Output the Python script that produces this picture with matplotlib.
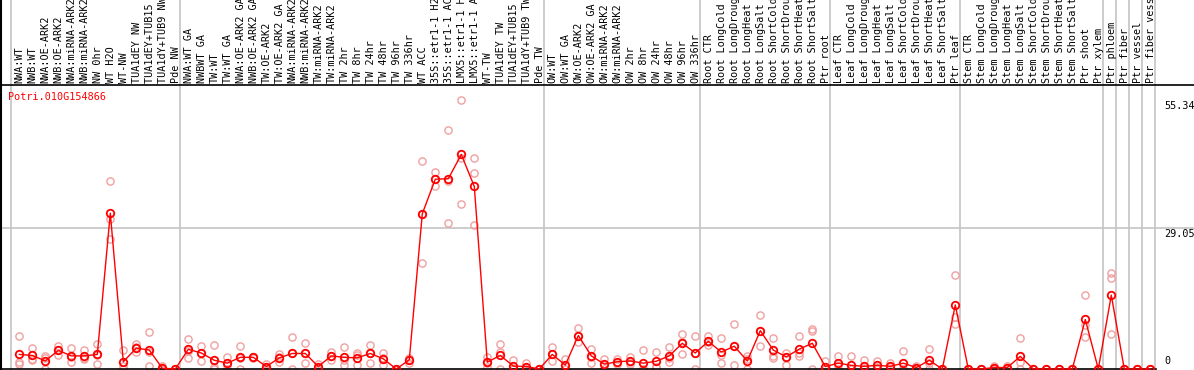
import matplotlib
matplotlib.use("Agg")
import matplotlib.pyplot as plt
from matplotlib.lines import Line2D
import numpy as np

gene = "Potri.010G154866"

samples = [
    "NWA:WT", "NWB:WT", "NWA:OE-ARK2", "NWB:OE-ARK2", "NWA:miRNA-ARK2",
    "NWB:miRNA-ARK2", "NW 0hr", "WT H2O", "WT-NW", "TUA1dEY NW",
    "TUA1dEY+TUB15 NW", "TUA1dY+TUB9 NW", "Pde NW",
    "NWA:WT GA", "NWBWT GA", "TW:WT", "TW:WT GA", "NWA:OE-ARK2 GA",
    "NWB:OE-ARK2 GA", "TW:OE-ARK2", "TW:OE-ARK2 GA", "NWA:miRNA-ARK2",
    "NWB:miRNA-ARK2", "TW:miRNA-ARK2", "TW:miRNA-ARK2", "TW 2hr", "TW 8hr",
    "TW 24hr", "TW 48hr", "TW 96hr", "TW 336hr", "WT ACC",
    "35S::etr1-1 H2O", "35S::etr1-1 ACC", "LMX5::etr1-1 H2O",
    "LMX5::etr1-1 ACC", "WT-TW", "TUA1dEY TW", "TUA1dEY+TUB15 TW",
    "TUA1dY+TUB9 TW", "Pde TW",
    "OW:WT", "OW:WT GA", "OW:OE-ARK2", "OW:OE-ARK2 GA", "OW:miRNA-ARK2",
    "OW:miRNA-ARK2", "OW 2hr", "OW 8hr", "OW 24hr", "OW 48hr", "OW 96hr",
    "OW 336hr",
    "Root CTR", "Root LongCold", "Root LongDrought", "Root LongHeat",
    "Root LongSalt", "Root ShortCold", "Root ShortDrought", "Root ShortHeat",
    "Root ShortSalt", "Ptr root",
    "Leaf CTR", "Leaf LongCold", "Leaf LongDrought", "Leaf LongHeat",
    "Leaf LongSalt", "Leaf ShortCold", "Leaf ShortDrought", "Leaf ShortHeat",
    "Leaf ShortSalt", "Ptr leaf",
    "Stem CTR", "Stem LongCold", "Stem LongDrought", "Stem LongHeat",
    "Stem LongSalt", "Stem ShortCold", "Stem ShortDrought", "Stem ShortHeat",
    "Stem ShortSalt", "Ptr shoot", "Ptr xylem",
    "Ptr phloem", "Ptr fiber", "Ptr vessel", "Ptr fiber vessel",
]

# index of the last sample in each group (0-based), -1 = left edge
group_ends = [-1, 12, 40, 52, 62, 72, 83, 84, 85, 86, 87]

mean_expr = [
    3.0, 2.8, 1.65, 3.85, 2.7, 2.7, 3.0, 32.1, 1.5, 4.3, 3.9, 0.15, 0.0,
    4.05, 3.3, 1.8, 1.2, 2.4, 2.4, 0.5, 2.3, 3.2, 3.2, 0.5, 2.7, 2.4, 2.3,
    3.2, 2.1, 0.0, 1.9, 32.0, 39.1, 39.2, 44.2, 37.6, 1.4, 2.8, 0.6, 0.5, 0.0,
    3.0, 0.8, 6.9, 2.7, 1.0, 1.5, 1.65, 1.2, 1.6, 2.7, 5.3, 3.3,
    5.7, 3.5, 4.7, 1.65, 7.9, 3.9, 2.5, 4.1, 5.3, 0.5,
    1.2, 0.75, 0.55, 0.75, 0.55, 1.2, 0.3, 1.8, 0.0, 13.2,
    0.0, 0.0, 0.3, 0.3, 2.6, 0.0, 0.0, 0.0, 0.0, 10.2, 0.0,
    15.2, 0.0, 0.0, 0.0,
]

rep1 = [
    6.7, 4.3, 2.7, 4.8, 4.3, 3.9, 5.1, 38.7, 3.85, 5.1, 7.6, 0.6, 0.0,
    6.2, 4.7, 4.9, 2.5, 4.8, 2.5, 1.0, 3.1, 6.6, 5.4, 1.0, 3.4, 4.5, 3.2,
    4.9, 3.2, 0.0, 2.3, 42.8, 40.6, 49.2, 55.34, 43.4, 2.5, 5.2, 1.9, 1.3, 0.0,
    4.5, 2.0, 8.4, 4.05, 2.1, 2.1, 2.5, 3.9, 3.5, 4.5, 7.3, 6.7,
    6.7, 6.3, 9.2, 2.7, 11.1, 6.3, 3.2, 6.7, 8.2, 1.7,
    2.7, 2.7, 1.9, 1.7, 1.3, 3.7, 0.6, 4.1, 0.0, 19.3,
    0.0, 0.0, 0.6, 0.6, 6.3, 0.0, 0.0, 0.0, 0.0, 15.2, 0.0,
    19.7, 0.0, 0.0, 0.0,
]

rep2 = [
    1.5, 2.1, 2.3, 3.9, 2.5, 2.2, 2.9, 30.8, 0.7, 4.5, 3.5, 0.0, 0.0,
    3.7, 3.3, 0.5, 0.8, 2.2, 2.4, 0.5, 2.4, 3.3, 3.2, 0.5, 2.7, 1.9, 2.9,
    3.2, 2.2, 0.0, 1.9, 32.0, 39.1, 38.8, 43.4, 40.3, 1.2, 3.6, 0.0, 0.2, 0.0,
    3.0, 0.6, 6.9, 2.5, 0.8, 1.5, 1.5, 0.0, 0.5, 2.2, 5.6, 3.3,
    5.6, 2.8, 4.7, 2.0, 7.9, 2.7, 2.5, 3.2, 7.9, 0.0,
    0.8, 0.0, 0.0, 0.5, 0.5, 0.0, 0.2, 1.3, 0.0, 10.8,
    0.0, 0.0, 0.2, 0.2, 1.5, 0.0, 0.0, 0.0, 0.0, 9.1, 0.0,
    18.7, 0.0, 0.0, 0.0,
]

rep3 = [
    1.0, 1.9, 0.0, 2.9, 1.4, 2.0, 1.0, 26.7, 0.0, 3.4, 0.6, 0.0, 0.0,
    2.3, 1.6, 0.0, 0.0, 0.0, 2.2, 0.0, 1.5, 0.0, 1.2, 0.0, 1.9, 0.8, 0.8,
    1.2, 0.8, 0.0, 1.2, 21.8, 37.7, 30.0, 33.9, 29.6, 0.5, 0.0, 0.0, 0.0, 0.0,
    1.6, 0.0, 5.6, 1.2, 0.0, 1.0, 1.0, 0.0, 0.35, 1.5, 3.0, 0.0,
    5.0, 1.2, 0.8, 0.0, 4.7, 2.3, 0.8, 2.7, 0.0, 0.0,
    0.0, 0.0, 0.0, 0.0, 0.0, 0.0, 0.0, 0.0, 0.0, 9.2,
    0.0, 0.0, 0.0, 0.0, 0.0, 0.0, 0.0, 0.0, 0.0, 6.6, 0.0,
    7.3, 0.0, 0.0, 0.0,
]

ytick_vals = [55.34, 29.05, 0]
ytick_labels = ["55.34", "29.05", "0"]

W, H = 1194, 370
fig = plt.figure(figsize=(W / 100, H / 100), dpi=100)
fig.patch.set_facecolor("white")

# plot area in pixels: x 1..1156, y 85..369 (from top)
ax = fig.add_axes([1 / W, (H - 369) / H, 1155 / W, 284 / H])
step = 13.0
ax.set_xlim((1 - 19.3) / step, (1156 - 19.3) / step)
ax.set_ylim(0, 284 / 4.854)
ax.set_xticks([])
ax.set_yticks([])
for s in ["top", "right", "left"]:
    ax.spines[s].set_visible(False)
ax.spines["bottom"].set_color("black")
ax.spines["bottom"].set_linewidth(1.2)

mono = "DejaVu Sans Mono"
grid_c = "#c4c4c4"

# group separators reach up through the header
for g in group_ends:
    ax.axvline(g + 5 / step, ymin=0, ymax=369 / 284 + 0.01, color=grid_c,
               lw=1.2, clip_on=False, zorder=1)
ax.axhline(29.05, xmin=-1 / 1155, xmax=1193 / 1155, color=grid_c, lw=1.2,
           clip_on=False, zorder=1)

# header rule and left border
fig.add_artist(Line2D([0, 1], [1 - 85 / H] * 2, color="black", lw=1.2))
fig.add_artist(Line2D([1 / W] * 2, [0, 1], color="black", lw=1.5))

x = np.arange(len(samples))
for rep in (rep1, rep2, rep3):
    ax.plot(x, rep, ls="none", marker="o", ms=5.2, mfc="none",
            mec="#f0a0a0", mew=1.0, clip_on=False, zorder=2)
ax.plot(x, mean_expr, color="red", lw=1.0, marker="o", ms=5.4, mfc="none",
        mec="red", mew=1.3, clip_on=False, zorder=3)

for i, lab in enumerate(samples):
    ax.annotate(lab, xy=(i, 1), xycoords=("data", "axes fraction"),
                xytext=(0.5, 2), textcoords="offset pixels", rotation=90,
                ha="center", va="bottom", fontsize=7.3, family=mono,
                annotation_clip=False)

ax.annotate(gene, xy=(0, 1), xycoords="axes fraction", xytext=(7, -7),
            textcoords="offset pixels", ha="left", va="top", fontsize=7.3,
            family=mono, color="red")

for v, t in zip(ytick_vals, ytick_labels):
    if v == 0:
        off, va = (8, 3), "bottom"
    else:
        off, va = (8, -1), "top"
    ax.annotate(t, xy=(1, v), xycoords=("axes fraction", "data"), xytext=off,
                textcoords="offset pixels", ha="left", va=va, fontsize=7.3,
                family=mono, annotation_clip=False)

fig.savefig("out.png", dpi=100, facecolor="white")
